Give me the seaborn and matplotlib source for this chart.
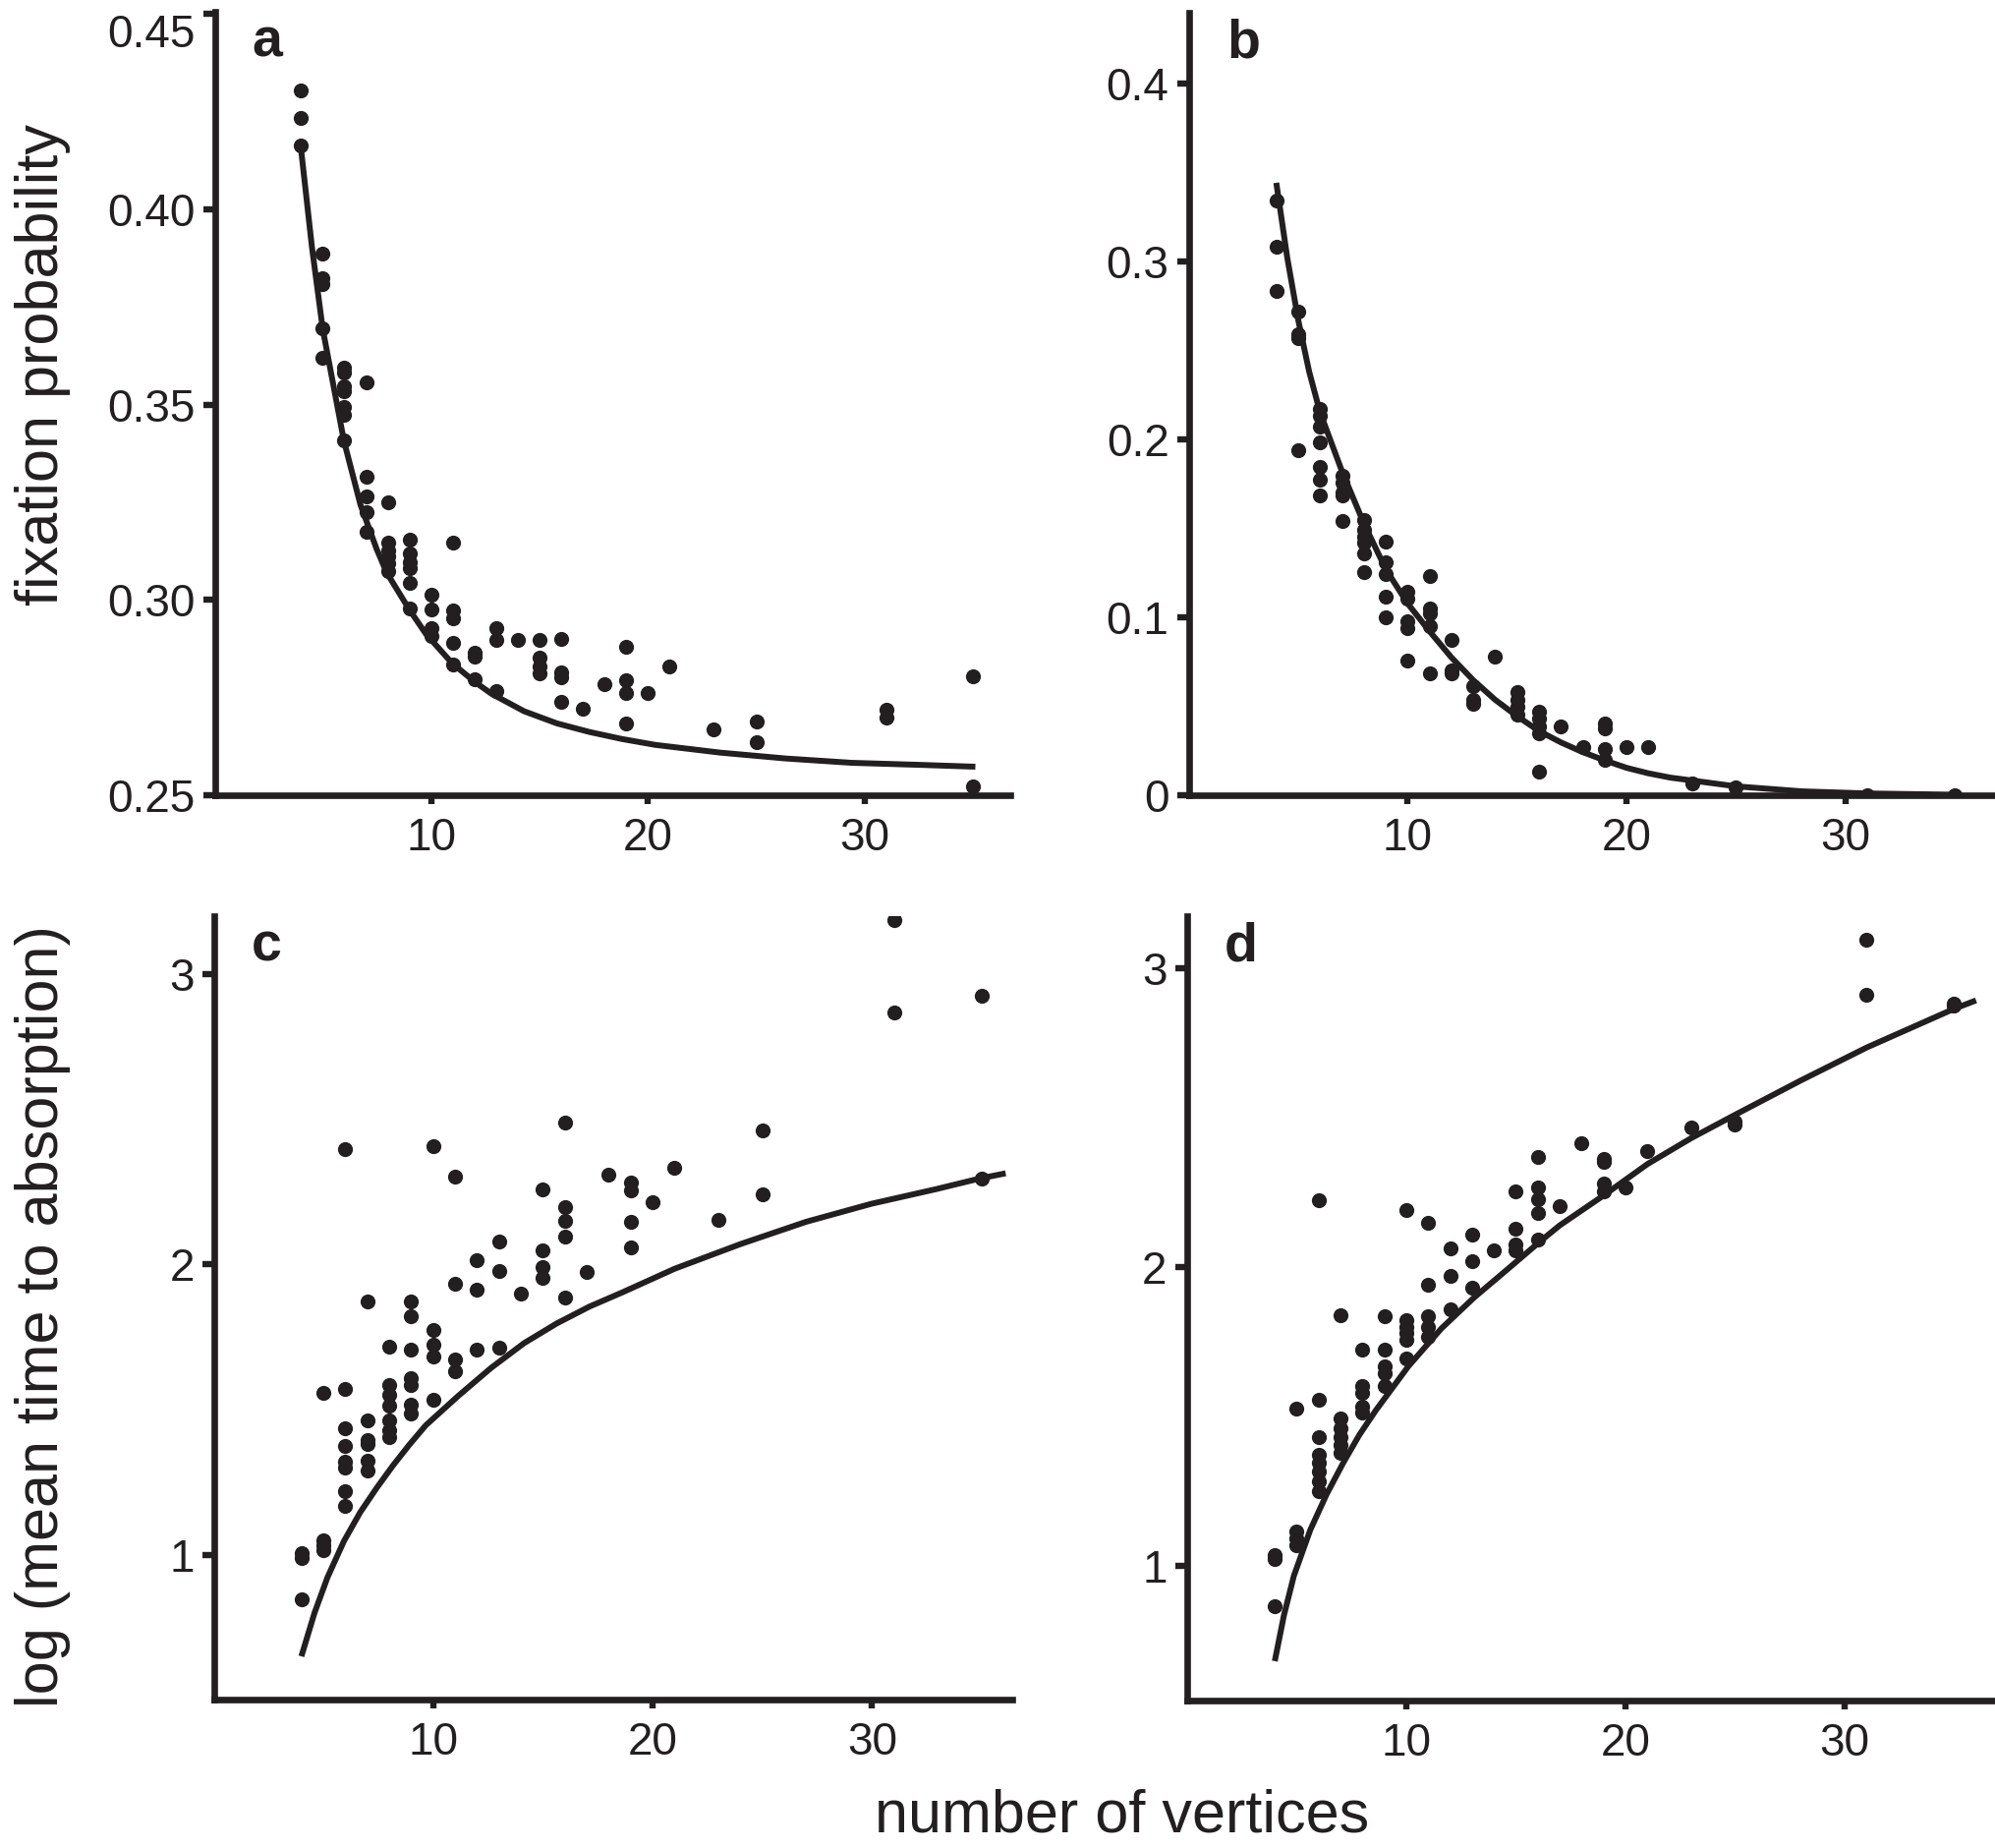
import pandas as pd
import seaborn as sns
import matplotlib.pyplot as plt

INK = "#231f20"

# ---- panel a: fixation probability (points per number of vertices) ----
a_vertices = [4, 5, 6, 7, 8, 9, 10, 11, 12, 13, 14, 15, 16, 17, 18, 19, 20, 21, 23, 25, 31, 35]
a_values = [
    [0.4305, 0.4235, 0.4163],
    [0.3888, 0.3824, 0.3809, 0.3695, 0.3621],
    [0.3595, 0.3582, 0.3548, 0.3535, 0.3494, 0.3473, 0.3408],
    [0.3557, 0.3316, 0.3264, 0.3225, 0.3174],
    [0.3250, 0.3146, 0.3128, 0.3112, 0.3094, 0.3075],
    [0.3155, 0.3118, 0.3097, 0.3081, 0.3044, 0.2978],
    [0.3013, 0.2977, 0.2927, 0.2909],
    [0.3148, 0.2972, 0.2952, 0.2891, 0.2836],
    [0.2866, 0.2855, 0.2797],
    [0.2929, 0.2898, 0.2767],
    [0.2898],
    [0.2898, 0.2852, 0.2830, 0.2813],
    [0.2901, 0.2815, 0.2803, 0.2738],
    [0.2722],
    [0.2784],
    [0.2879, 0.2794, 0.2763, 0.2683],
    [0.2763],
    [0.2830],
    [0.2668],
    [0.2688, 0.2636],
    [0.2719, 0.2698],
    [0.2805, 0.2522],
]
a_fit_n = [4.0, 4.5, 5.0, 5.98, 6.74, 7.49, 7.95, 9.0, 9.76, 10.97, 12.02, 12.78,
           14.29, 15.8, 17.3, 18.8, 20.33, 23.35, 26.37, 29.4, 32.4, 35.1]
a_fit = [0.4155, 0.3905, 0.3694, 0.3407, 0.3244, 0.3130, 0.3070, 0.2975, 0.2913, 0.2838,
         0.2790, 0.2760, 0.2715, 0.2684, 0.2662, 0.2644, 0.2629, 0.2609, 0.2594, 0.2583,
         0.2578, 0.2573]

# ---- panel b: fixation probability ----
b_vertices = [4, 5, 6, 7, 8, 9, 10, 11, 12, 13, 14, 15, 16, 17, 18, 19, 20, 21, 23, 25, 31, 35]
b_values = [
    [0.334, 0.308, 0.2835],
    [0.2717, 0.2587, 0.2565, 0.1936],
    [0.2169, 0.2132, 0.2068, 0.1982, 0.1844, 0.1771, 0.1686],
    [0.1793, 0.1756, 0.1701, 0.1683, 0.1541],
    [0.1545, 0.1490, 0.1453, 0.1417, 0.1361, 0.1251],
    [0.1426, 0.1306, 0.1242, 0.1114, 0.1000],
    [0.1141, 0.1105, 0.0976, 0.0939, 0.0756],
    [0.1233, 0.1050, 0.1022, 0.0949, 0.0683],
    [0.0875, 0.0701, 0.0683],
    [0.0615, 0.0535, 0.0515],
    [0.0780],
    [0.0580, 0.0535, 0.0497, 0.0450],
    [0.0470, 0.0432, 0.0387, 0.0350, 0.0130],
    [0.0385],
    [0.0270],
    [0.0405, 0.0375, 0.0258, 0.0200],
    [0.0270],
    [0.0270],
    [0.0065],
    [0.0045],
    [0.0],
    [0.0],
]
b_fit_n = [4.0, 4.5, 5.0, 5.5, 6, 7, 8, 9, 10, 11, 12, 13, 14, 15, 16, 17, 18, 19, 20,
           21, 22, 25, 28, 31, 35]
b_fit = [0.344, 0.302, 0.267, 0.238, 0.215, 0.182, 0.1527, 0.127, 0.1077, 0.0921, 0.0774,
         0.0646, 0.0536, 0.0444, 0.0361, 0.0297, 0.0242, 0.0196, 0.0154, 0.0123, 0.0099,
         0.0050, 0.0022, 0.0010, 0.0003]

# ---- panel c: log mean time to absorption ----
c_vertices = [4, 5, 6, 7, 8, 9, 10, 11, 12, 13, 14, 15, 16, 17, 18, 19, 20, 21, 23, 25, 31, 35]
c_values = [
    [1.006, 0.989, 0.845],
    [1.557, 1.050, 1.033, 1.015],
    [2.398, 1.571, 1.435, 1.375, 1.320, 1.299, 1.220, 1.169],
    [1.872, 1.463, 1.395, 1.380, 1.325, 1.289],
    [1.717, 1.583, 1.550, 1.513, 1.463, 1.430, 1.404],
    [1.872, 1.822, 1.707, 1.607, 1.585, 1.518, 1.485],
    [2.409, 1.774, 1.723, 1.684, 1.533],
    [2.301, 1.934, 1.672, 1.633],
    [2.014, 1.913, 1.705],
    [2.080, 1.977, 1.712],
    [1.900],
    [2.258, 2.047, 1.992, 1.953],
    [2.490, 2.196, 2.151, 2.097, 1.887],
    [1.973],
    [2.309],
    [2.283, 2.254, 2.147, 2.060],
    [2.213],
    [2.333],
    [2.155],
    [2.461, 2.241],
    [3.187, 2.867],
    [2.925, 2.297],
]
c_fit_n = [4.0, 4.6, 5.19, 5.94, 6.68, 7.43, 8.18, 8.92, 9.67, 11.16, 12.65, 14.15, 15.64,
           17.13, 18.63, 21.0, 24.0, 27.0, 29.97, 32.95, 34.9, 36.09]
c_fit = [0.650, 0.800, 0.922, 1.047, 1.146, 1.230, 1.308, 1.379, 1.446, 1.548, 1.644,
         1.729, 1.797, 1.855, 1.904, 1.985, 2.070, 2.147, 2.209, 2.260, 2.296, 2.314]

# ---- panel d: log mean time to absorption ----
d_vertices = [4, 5, 6, 7, 8, 9, 10, 11, 12, 13, 14, 15, 16, 17, 18, 19, 20, 21, 23, 25, 31, 35]
d_values = [
    [1.036, 1.025, 0.866],
    [1.526, 1.115, 1.094, 1.069],
    [2.224, 1.558, 1.433, 1.372, 1.347, 1.315, 1.285, 1.250],
    [1.839, 1.493, 1.461, 1.433, 1.406, 1.378],
    [1.724, 1.603, 1.581, 1.532, 1.515],
    [1.836, 1.724, 1.669, 1.647, 1.603],
    [2.191, 1.822, 1.800, 1.779, 1.757, 1.696],
    [2.149, 1.943, 1.836, 1.800, 1.768],
    [2.064, 1.970, 1.860],
    [2.110, 2.020, 1.932],
    [2.058],
    [2.255, 2.129, 2.077, 2.058],
    [2.369, 2.266, 2.228, 2.183, 2.093],
    [2.203],
    [2.415],
    [2.363, 2.353, 2.280, 2.253],
    [2.266],
    [2.390],
    [2.467],
    [2.488, 2.477],
    [3.095, 2.913],
    [2.882, 2.876],
]
d_fit_n = [4.0, 4.42, 4.87, 5.62, 6.37, 7.12, 7.86, 8.61, 10.1, 11.6, 13.1, 14.6, 16.1,
           17.0, 19, 21, 23, 25, 28, 31, 35, 36]
d_fit = [0.682, 0.836, 0.967, 1.121, 1.241, 1.345, 1.439, 1.521, 1.669, 1.795, 1.899,
         1.992, 2.086, 2.140, 2.240, 2.345, 2.432, 2.510, 2.625, 2.735, 2.865, 2.893]


def to_frame(vertices, groups):
    rows = [(n, v) for n, vals in zip(vertices, groups) for v in vals]
    return pd.DataFrame(rows, columns=["n", "value"])


sns.set_style("ticks")
plt.rcParams["font.family"] = ["Liberation Sans", "DejaVu Sans"]

W, H = 2030, 1880
fig = plt.figure(figsize=(W / 100, H / 100), dpi=100)


def px_axes(left, right, top, bottom):
    return fig.add_axes([left / W, 1 - bottom / H, (right - left) / W, (bottom - top) / H])


panels = [
    # letter, axes box (px), xlim, ylim, yticks, ylabels, points, fit
    ("a", (218.5, 1028, 11.7, 809), (0.02, 36.71), (0.2513, 0.4507),
     [0.25, 0.30, 0.35, 0.40, 0.45], ["0.25", "0.30", "0.35", "0.40", "0.45"],
     to_frame(a_vertices, a_values), pd.DataFrame({"n": a_fit_n, "value": a_fit})),
    ("b", (1209.6, 2027, 13, 809), (0.0, 36.7), (0.0, 0.4395),
     [0, 0.1, 0.2, 0.3, 0.4], ["0", "0.1", "0.2", "0.3", "0.4"],
     to_frame(b_vertices, b_values), pd.DataFrame({"n": b_fit_n, "value": b_fit})),
    ("c", (218, 1030, 932, 1729.3), (0.03, 36.39), (0.50, 3.20),
     [1, 2, 3], ["1", "2", "3"],
     to_frame(c_vertices, c_values), pd.DataFrame({"n": c_fit_n, "value": c_fit})),
    ("d", (1207.5, 2027, 932, 1730), (-0.02, 36.73), (0.55, 3.175),
     [1, 2, 3], ["1", "2", "3"],
     to_frame(d_vertices, d_values), pd.DataFrame({"n": d_fit_n, "value": d_fit})),
]

for letter, box, xlim, ylim, yticks, ylabels, pts, fit in panels:
    ax = px_axes(*box)
    sns.scatterplot(data=pts, x="n", y="value", ax=ax, color=INK, s=120,
                    linewidth=0, zorder=2)
    sns.lineplot(data=fit, x="n", y="value", ax=ax, color=INK, linewidth=4.3,
                 sort=False, estimator=None, zorder=2, solid_joinstyle="round",
                 solid_capstyle="butt")
    ax.set_xlim(*xlim)
    ax.set_ylim(*ylim)
    ax.set_xticks([10, 20, 30])
    ax.set_xticklabels(["10", "20", "30"])
    ax.set_yticks(yticks)
    ax.set_yticklabels(ylabels)
    ax.set_xlabel("")
    ax.set_ylabel("")
    sns.despine(ax=ax)
    for side in ["left", "bottom"]:
        ax.spines[side].set_linewidth(4.8)
        ax.spines[side].set_color(INK)
        ax.spines[side].set_capstyle("projecting")
        ax.spines[side].set_zorder(3)
    ax.tick_params(axis="y", length=8.9, width=4.6, pad=5.5, labelsize=33,
                   colors=INK, direction="out")
    ax.tick_params(axis="x", length=6.5, width=4.6, pad=9, labelsize=33,
                   colors=INK, direction="out")
    ax.set_facecolor("white")
    ax.text(0.047, 0.943, letter, transform=ax.transAxes, fontsize=40,
            fontweight="bold", color=INK, ha="left", va="baseline")
    if letter == "a":
        ax.get_yticklabels()[-1].set_va("top")

fig.text(44 / W, 1 - 371 / H, "fixation probability", rotation=90, fontsize=44,
         color=INK, ha="center", va="center")
fig.text(44 / W, 1 - 1339 / H, "log (mean time to absorption)", rotation=90,
         fontsize=44, color=INK, ha="center", va="center")
fig.text(1142 / W, 1 - 1864 / H, "number of vertices", fontsize=44, color=INK,
         ha="center", va="baseline")

fig.savefig("out.png", dpi=100, facecolor="white")
